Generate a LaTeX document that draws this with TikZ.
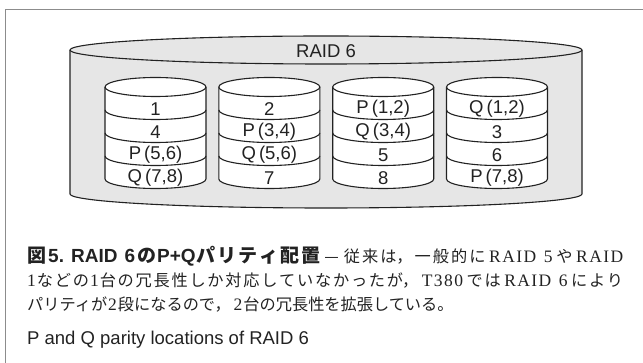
\documentclass[tikz,border=0pt]{standalone}
\usepackage{fontspec}
\setmainfont{Liberation Serif}
\setsansfont{Liberation Sans}
\newfontfamily\jpfont{Noto Sans CJK JP}
\newfontfamily\latfont{Liberation Serif}[LetterSpace=8]
\usepackage{tikz}
\usetikzlibrary{positioning}

\definecolor{raidgray}{HTML}{E6E6E6}
\definecolor{inkgray}{HTML}{222222}

% caption pieces
\XeTeXlinebreaklocale "ja"
\XeTeXlinebreakskip=0pt plus 3pt
\newcommand\capjp[1]{{\jpfont\fontsize{16.2}{16.2}\selectfont#1}}
\newcommand\capjpbf[1]{{\jpfont\bfseries\fontsize{19}{19}\selectfont#1}}
\newcommand\capsf[1]{{\sffamily\bfseries\fontsize{19}{19}\selectfont#1}}
\newcommand\caprm[1]{{\latfont\fontsize{17.5}{17.5}\selectfont#1}}
\newcommand\jj{\hskip 3pt plus 1pt\relax}
\newcommand\capline[1]{\parbox[b]{596pt}{\tolerance=10000\parfillskip=0pt\relax#1}}

\begin{document}
\begin{tikzpicture}[
    x=1pt, y=1pt, line join=round,
    frame/.style={draw=black!45, line width=0.8pt},
    drum/.style={draw=inkgray, line width=1.1pt, fill=#1},
    band/.style={draw=inkgray, line width=1.1pt},
    cell/.style={font=\sffamily\fontsize{18.5}{18.5}\selectfont, text=inkgray, inner sep=0pt},
    caption/.style={anchor=base west, inner sep=0pt, text=inkgray}
]

% ===== FRAME =====
\path[use as bounding box] (0,0) rectangle (643,-363);
\draw[frame] (643,-9) -- (5,-9) -- (5,-363);

% ===== BIG CYLINDER =====
\draw[drum=raidgray] (70,-50) -- (70,-194)
  arc[start angle=180, end angle=360, x radius=256, y radius=14] -- (582,-50);
\draw[drum=raidgray] (326,-50) ellipse[x radius=256, y radius=14];
\node[cell] (raid) at (326,-51) {RAID 6};

% ==== DISKS ====
\def\rx{50.5}
\def\ry{9.5}
\foreach \cx/\a/\b/\c/\d [count=\i] in {
    155.5/1/4/{P\,(5,6)}/{Q\,(7,8)},
    269.3/2/{P\,(3,4)}/{Q\,(5,6)}/7,
    383.2/{P\,(1,2)}/{Q\,(3,4)}/5/8,
    497/{Q\,(1,2)}/3/6/{P\,(7,8)}}{
  \draw[drum=white] (\cx-\rx,-87) -- (\cx-\rx,-179)
    arc[start angle=180, end angle=360, x radius=\rx, y radius=\ry] -- (\cx+\rx,-87);
  \draw[drum=white] (\cx,-87) ellipse[x radius=\rx, y radius=\ry];
  \foreach \y in {110,133,156}
    \draw[band] (\cx-\rx,-\y) arc[start angle=180, end angle=360, x radius=\rx, y radius=\ry];
  \node[cell] (d\i a) at (\cx,-109) {\a};
  \node[cell] (d\i b) at (\cx,-132) {\b};
  \node[cell] (d\i c) at (\cx,-155) {\c};
  \node[cell] (d\i d) at (\cx,-178) {\d};
}

% ===== CAPTION =====
\node[caption] (cap1) at (27,-263)
  {\capline{\capjpbf{図}\kern2pt\capsf{5.\ RAID 6}\kern2pt\capjpbf{の}\kern1pt\capsf{P+Q}\kern1pt\capjpbf{パリティ配置}\jj\capjp{— 従来は，一般的に}\jj\caprm{RAID 5}\jj\capjp{や}\jj\caprm{RAID}}};
\node[caption] (cap2) at (27,-287)
  {\capline{\caprm{1}\kern1pt\capjp{などの}\kern1pt\caprm{1}\kern1pt\capjp{台の冗長性しか対応していなかったが，}\jj\caprm{T380}\jj\capjp{では}\jj\caprm{RAID 6}\jj\capjp{により}}};
\node[caption] (cap3) at (27,-311)
  {\capjp{パリティが}\kern1pt\caprm{2}\kern1pt\capjp{段になるので，}\jj\caprm{2}\kern1pt\capjp{台の冗長性を拡張している。}};
\node[caption, font=\sffamily\fontsize{18.5}{18.5}\selectfont] (cap4) at (27,-345)
  {P and Q parity locations of RAID 6};

\end{tikzpicture}
\end{document}
